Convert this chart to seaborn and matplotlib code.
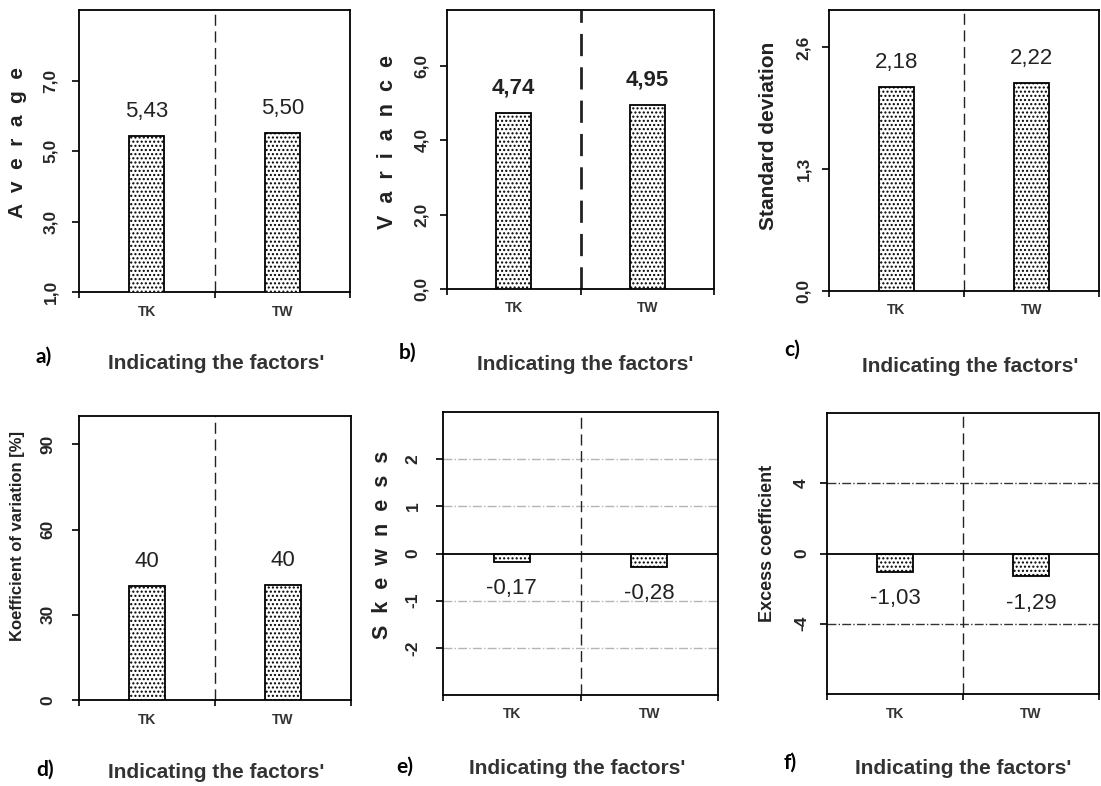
import numpy as np
import pandas as pd
import seaborn as sns
import matplotlib.pyplot as plt

# values
categories = ['TK', 'TW']
average = [5.43, 5.50]
variance = [4.74, 4.95]
std_dev = [2.18, 2.22]
coef_var = [40.1, 40.4]
skewness = [-0.17, -0.28]
excess = [-1.03, -1.29]

ticks_a = [1, 3, 5, 7]
ticks_b = [0, 2, 4, 6]
ticks_c = [0, 1.3, 2.6]
ticks_d = [0, 30, 60, 90]
ticks_e = [-2, -1, 0, 1, 2]
ticks_f = [-4, 0, 4]

sns.set_style('white')
plt.rcParams['font.family'] = ['Liberation Sans', 'DejaVu Sans']
plt.rcParams['hatch.linewidth'] = 1.0

W, H = 1101, 786
fig = plt.figure(figsize=(W / 100, H / 100), dpi=100)


def px_axes(left, top, right, bottom):
    # axes box given in pixel coords of the picture
    return fig.add_axes([left / W, 1 - bottom / H, (right - left) / W, (bottom - top) / H])


def fmt(v, nd=2):
    return f"{v:.{nd}f}".replace('.', ',')


def draw_panel(ax, values, ylim, yticks, ylabels, pad, nd=2, lab_size=16, lab_weight='normal',
               div_lw=1.0, grid=None):
    df = pd.DataFrame({'factor': categories, 'value': values})
    sns.barplot(data=df, x='factor', y='value', ax=ax, color='white', saturation=1,
                edgecolor='black', linewidth=1.3, width=0.26, hatch='....', zorder=3)
    ax.set_xlim(-0.5, 1.5)
    ax.set_ylim(*ylim)
    ax.set_xlabel('')
    ax.set_ylabel('')
    for s in ax.spines.values():
        s.set_visible(True)
        s.set_color('black')
        s.set_linewidth(1.3)
    ax.set_yticks(yticks)
    ax.set_yticklabels(ylabels, rotation=90, va='center', fontweight='bold', fontsize=12.5)
    ax.tick_params(axis='y', direction='out', length=5, width=1.2, pad=pad, left=True, color='black')
    ax.set_xticks([0, 1])
    ax.set_xticklabels(categories, fontweight='bold', fontsize=10, color='#333333')
    ax.set_xticks([-0.5, 0.5, 1.5], minor=True)
    ax.tick_params(axis='x', which='major', length=0, pad=9)
    ax.tick_params(axis='x', which='minor', direction='out', length=4, width=1.2, bottom=True, color='black')
    ax.axvline(0.5, color='#222222', lw=div_lw, ls=(0, (8, 4)), zorder=2)
    if grid is not None:
        for g in grid['levels']:
            ax.axhline(g, color=grid['color'], lw=1.0, ls='-.', zorder=1)
        ax.axhline(0, color='black', lw=1.3, zorder=4)
    for i, v in enumerate(values):
        txt = fmt(v, nd)
        if v >= 0:
            ax.annotate(txt, (i, v), xytext=(0, 10), textcoords='offset points', ha='center',
                        va='bottom', fontsize=lab_size, fontweight=lab_weight, color='#222222')
        else:
            ax.annotate(txt, (i, v), xytext=(0, -12), textcoords='offset points', ha='center',
                        va='top', fontsize=lab_size, fontweight=lab_weight, color='#222222')


ax_a = px_axes(79, 10, 350, 292)
draw_panel(ax_a, average, (1, 9), ticks_a, ['1,0', '3,0', '5,0', '7,0'], pad=10)
ax_b = px_axes(447, 10, 714, 289)
draw_panel(ax_b, variance, (0, 7.5), ticks_b, ['0,0', '2,0', '4,0', '6,0'], pad=8,
           lab_weight='bold', div_lw=2.0)
ax_c = px_axes(829, 10, 1099, 291)
draw_panel(ax_c, std_dev, (0, 3.0), ticks_c, ['0,0', '1,3', '2,6'], pad=8)
ax_d = px_axes(79, 416, 351, 700)
draw_panel(ax_d, coef_var, (0, 100), ticks_d, ['0', '30', '60', '90'], pad=12, nd=0)
ax_e = px_axes(443, 412, 718, 695)
draw_panel(ax_e, skewness, (-3, 3), ticks_e, ['-2', '-1', '0', '1', '2'], pad=11,
           grid={'levels': [-2, -1, 1, 2], 'color': '#b5b5b5'})
ax_f = px_axes(827, 413, 1099, 694)
draw_panel(ax_f, excess, (-8, 8), ticks_f, ['-4', '0', '4'], pad=8,
           grid={'levels': [-4, 4], 'color': '#333333'})

# y axis titles
ylab = [
    (18, 142, 'A  v  e  r  a  g  e', 15),
    (387, 142, 'V  a  r  i  a  n  c  e', 15.5),
    (768, 136, 'Standard deviation', 15),
    (18, 536, 'Koefficient of variation [%]', 12),
    (383, 545, 'S  k  e  w  n  e  s  s', 15.5),
    (767, 543, 'Excess coefficient', 13),
]
for x, y, t, fs in ylab:
    fig.text(x / W, 1 - y / H, t, rotation=90, ha='center', va='center', fontsize=fs,
             fontweight='bold', color='#222222')

# panel letters and x titles
letters = [(44, 357, 'a)'), (408, 353, 'b)'), (792, 350, 'c)'),
           (45, 770, 'd)'), (405, 767, 'e)'), (790, 763, 'f)')]
for x, y, t in letters:
    fig.text(x / W, 1 - y / H, t, ha='center', va='center', fontsize=15, fontweight='bold',
             color='black', family=['Lato', 'DejaVu Sans'])

xtitles = [(216, 363), (585, 365), (970, 366), (216, 773), (577, 768), (963, 768)]
for x, y in xtitles:
    fig.text(x / W, 1 - y / H, "Indicating the factors'", ha='center', va='center',
             fontsize=15, fontweight='bold', color='#333333')

fig.savefig('out.png', dpi=100)
